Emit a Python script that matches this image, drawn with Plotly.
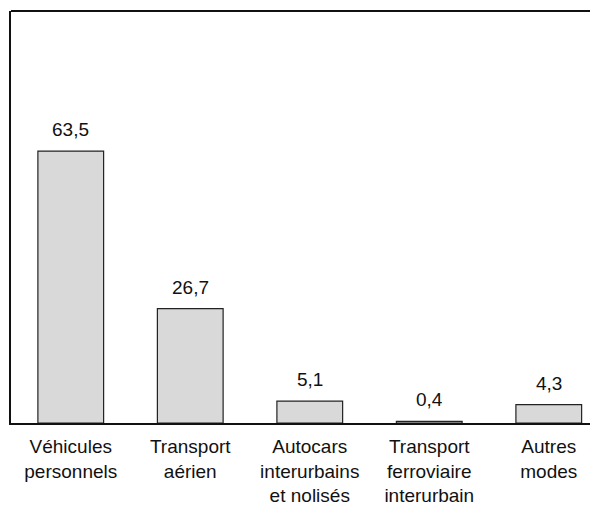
import plotly.graph_objects as go

categories = [
    "Véhicules<br>personnels",
    "Transport<br>aérien",
    "Autocars<br>interurbains<br>et nolisés",
    "Transport<br>ferroviaire<br>interurbain",
    "Autres<br>modes",
]
values = [63.5, 26.7, 5.1, 0.4, 4.3]
labels = ["63,5", "26,7", "5,1", "0,4", "4,3"]

FONT = "Liberation Sans, Arial, sans-serif"

fig = go.Figure()
fig.add_trace(
    go.Bar(
        x=list(range(len(categories))),
        y=values,
        width=0.55,
        marker=dict(color="#d9d9d9", line=dict(color="#222222", width=1.2)),
        hoverinfo="skip",
    )
)

# value labels above the bars
for i, (v, lab) in enumerate(zip(values, labels)):
    fig.add_annotation(
        x=i, y=v, text=lab, showarrow=False,
        yanchor="bottom", yshift=9,
        font=dict(family=FONT, size=19, color="#111111"),
    )

# top frame line
fig.add_shape(
    type="line", xref="paper", yref="paper",
    x0=0, x1=1, y0=1, y1=1,
    line=dict(color="#111111", width=2),
)

fig.update_layout(
    width=590,
    height=508,
    margin=dict(l=11, r=0, t=11, b=85),
    paper_bgcolor="white",
    plot_bgcolor="white",
    showlegend=False,
    font=dict(family=FONT, size=19, color="#111111"),
    xaxis=dict(
        range=[-0.5, 4.345],
        tickmode="array",
        tickvals=list(range(len(categories))),
        ticktext=categories,
        showline=True,
        linecolor="#111111",
        linewidth=2,
        ticks="",
        ticklabelstandoff=5,
        showgrid=False,
        zeroline=False,
        automargin=False,
        tickfont=dict(family=FONT, size=19, color="#111111"),
    ),
    yaxis=dict(
        range=[0, 96.2],
        showline=True,
        linecolor="#111111",
        linewidth=2,
        showticklabels=False,
        ticks="",
        showgrid=False,
        zeroline=False,
    ),
)

fig.write_html(
    "out.html",
    config={"displayModeBar": False},
    post_script="document.body.style.margin='0';",
)
